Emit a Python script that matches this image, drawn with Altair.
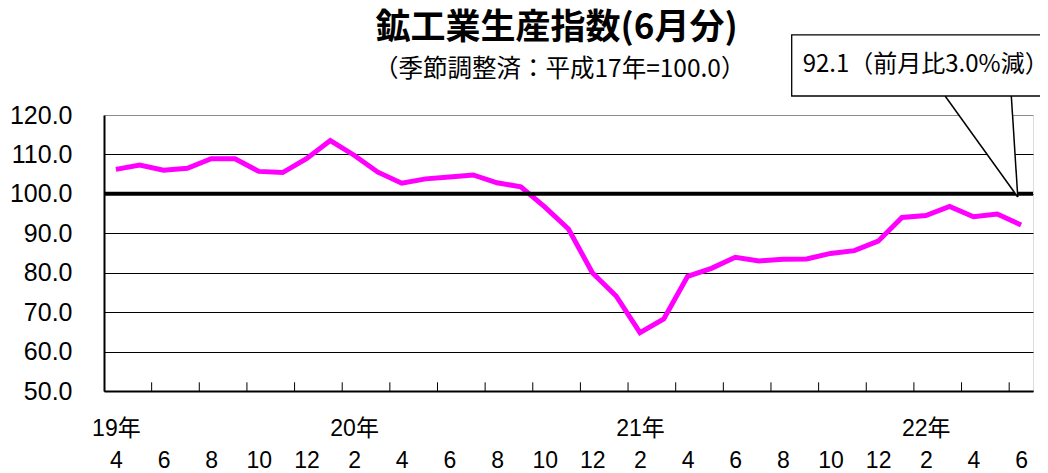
import altair as alt
import pandas as pd

# --- data ---
years = [2019] * 9 + [2020] * 12 + [2021] * 12 + [2022] * 6
months = [4, 5, 6, 7, 8, 9, 10, 11, 12,
          1, 2, 3, 4, 5, 6, 7, 8, 9, 10, 11, 12,
          1, 2, 3, 4, 5, 6, 7, 8, 9, 10, 11, 12,
          1, 2, 3, 4, 5, 6]
values = [106.2, 107.3, 106.0, 106.5, 108.9, 108.9, 105.7, 105.4, 108.9, 113.5, 109.8, 105.5,
          102.7, 103.8, 104.3, 104.8, 102.8, 101.8, 96.7, 91.1, 80.0, 74.1, 64.8, 68.3,
          79.1, 81.1, 83.9, 83.0, 83.4, 83.5, 84.9, 85.6, 88.0, 94.0, 94.5, 96.8,
          94.2, 94.9, 92.1]
y_ticks = [50, 60, 70, 80, 90, 100, 110, 120]
reference_level = 100
callout_text = "92.1（前月比3.0%減）"
title_text = "鉱工業生産指数(6月分)"
subtitle_text = "（季節調整済：平成17年=100.0）"

idx = list(range(len(values)))
df = pd.DataFrame({"i": idx, "v": values, "year": years, "month": months})

# axis labels every 2 months, with year shown at first labelled month of each year
label_pairs = []
seen = set()
for i in range(0, len(values), 2):
    y = years[i]
    yl = ""
    if y not in seen:
        yl = f"{y % 100}年"
        seen.add(y)
    label_pairs.append(f'["{yl}","{months[i]}"]')
label_expr = "[" + ",".join(label_pairs) + "][round(datum.value/2)]"

tick_pos = [k - 0.5 for k in range(2, len(values), 2)]

FONT_NUM = "Liberation Sans, Noto Sans CJK JP"
FONT_JP = "Noto Sans CJK JP"

xscale = alt.Scale(domain=[-0.5, len(values) - 0.5], nice=False, zero=False)
yscale = alt.Scale(domain=[50, 120], nice=False, zero=False)

x_axis = alt.Axis(values=list(range(0, len(values), 2)), labelExpr=label_expr,
                  ticks=False, grid=False, domain=True, domainColor="black", domainWidth=2,
                  labelFont=FONT_NUM, labelFontSize=23, labelLineHeight=32,
                  labelBaseline="top", labelAlign="center", labelPadding=26,
                  labelColor="black", title=None, labelOverlap=False)
y_axis = alt.Axis(values=y_ticks, format=".1f", ticks=False, grid=True,
                  gridColor=alt.condition("datum.value == 120", alt.value("#8c8c8c"), alt.value("black")),
                  gridWidth=1, domain=True, domainColor="black",
                  domainWidth=2, labelFont=FONT_NUM, labelFontSize=25,
                  labelColor="black", labelPadding=32, title=None, labelOverlap=False)

X = alt.X("i:Q", scale=xscale, axis=x_axis)
Y = alt.Y("v:Q", scale=yscale, axis=y_axis)

line = alt.Chart(df).mark_line(color="#FF00FF", strokeWidth=5).encode(x=X, y=Y)

ticks = alt.Chart(pd.DataFrame({"i": tick_pos, "v": [50.0] * len(tick_pos), "v2": [52.2] * len(tick_pos)})).mark_rule(
    color="black", strokeWidth=1
).encode(x=X, y=Y, y2="v2:Q")

ref = alt.Chart(pd.DataFrame({"v": [reference_level]})).mark_rule(color="black", strokeWidth=4).encode(y=Y)

# callout (in data units)
box_l, box_r, box_b, box_t = 28.37, 40.0, 124.82, 140.3
p_l, p_r, tip_x, tip_y = 34.81, 37.59, 37.86, 99.2
t = (p_r - p_l) / (tip_x - p_l)
y_left_at_pr = box_b + t * (tip_y - box_b)

box = alt.Chart(pd.DataFrame({"i": [box_l], "x2": [box_r], "v": [box_b], "y2": [box_t]})).mark_rect(
    fill="white", stroke="black", strokeWidth=1.3
).encode(x=X, x2="x2:Q", y=Y, y2="y2:Q")

tri = alt.Chart(pd.DataFrame({
    "i": [p_l, p_r, tip_x],
    "v": [box_b + 0.4, box_b + 0.4, tip_y],
    "y2": [box_b + 0.4, y_left_at_pr, tip_y],
})).mark_area(fill="white", opacity=1).encode(x=X, y=Y, y2="y2:Q")

ptr = alt.Chart(pd.DataFrame({
    "i": [p_l, p_r], "v": [box_b, box_b], "x2": [tip_x, tip_x], "y2": [tip_y, tip_y]
})).mark_rule(color="black", strokeWidth=1.5).encode(x=X, y=Y, x2="x2:Q", y2="y2:Q")

label = alt.Chart(pd.DataFrame({"i": [28.83], "v": [132.7], "t": [callout_text]})).mark_text(
    align="left", baseline="middle", font=FONT_JP, fontSize=24, color="black"
).encode(x=X, y=Y, text="t:N")

title = alt.Chart(pd.DataFrame({"i": [18.5], "v": [142.0], "t": [title_text]})).mark_text(
    align="center", baseline="middle", font=FONT_JP, fontSize=35, fontWeight="bold", color="black"
).encode(x=X, y=Y, text="t:N")

subtitle = alt.Chart(pd.DataFrame({"i": [18.63], "v": [131.4], "t": [subtitle_text]})).mark_text(
    align="center", baseline="middle", font=FONT_JP, fontSize=24.5, color="black"
).encode(x=X, y=Y, text="t:N")

chart = alt.layer(line, ref, ticks, tri, ptr, box, label, title, subtitle).properties(
    width=929, height=276,
    autosize=alt.AutoSizeParams(type="none"),
    padding={"left": 96, "top": 107, "right": 7, "bottom": 82},
).configure_view(stroke="#808080", strokeWidth=1).configure(background="white")

chart.save("out.html", embed_options={"renderer": "svg", "actions": False})
